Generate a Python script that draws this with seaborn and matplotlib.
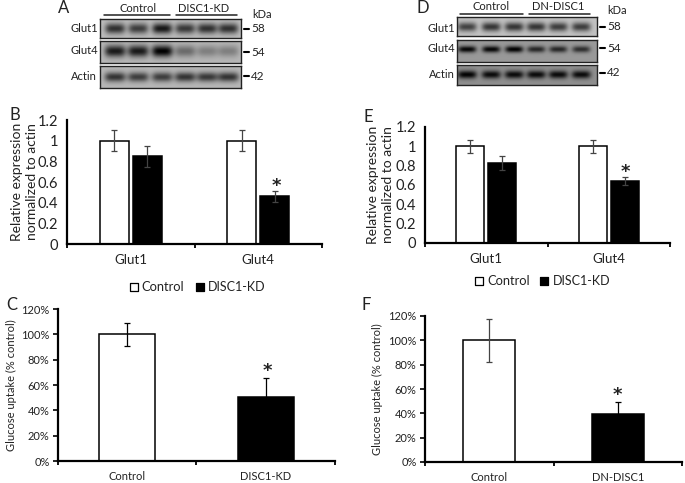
# Western blots and bar charts for the DISC1 knockdown / DN-DISC1 panels
import numpy as np
import pandas as pd
import matplotlib.pyplot as plt
import seaborn as sns

W, H = 685, 483

# panel B / E expression
genes = ["Glut1", "Glut4"]
series = ["Control", "DISC1-KD"]
b_control = [1.0, 1.0]
b_kd = [0.85, 0.46]
b_control_err = [0.10, 0.10]
b_kd_err = [0.10, 0.055]
e_control = [1.0, 1.0]
e_kd = [0.83, 0.64]
e_control_err = [0.07, 0.065]
e_kd_err = [0.07, 0.043]
expr_ticks = [0, 0.2, 0.4, 0.6, 0.8, 1, 1.2]

# panel C / F glucose uptake
c_groups = ["Control", "DISC1-KD"]
c_values = [100, 50.5]
c_err = [9, 15]
f_groups = ["Control", "DN-DISC1"]
f_values = [100, 39.5]
f_err = [17.5, 9.5]
pct_ticks = [0, 20, 40, 60, 80, 100, 120]

# blot band darkness per lane
a_glut1 = [0.55, 0.5, 0.65, 0.52, 0.55, 0.55]
a_glut4 = [0.62, 0.62, 0.72, 0.3, 0.22, 0.22]
a_actin = [0.52, 0.48, 0.48, 0.52, 0.5, 0.52]
d_glut1 = [0.5, 0.55, 0.55, 0.55, 0.52, 0.52]
d_glut4 = [0.58, 0.58, 0.6, 0.45, 0.45, 0.42]
d_actin = [0.55, 0.52, 0.52, 0.52, 0.52, 0.52]
a_lanes = [115, 138, 162, 185, 207, 228]
d_lanes = [467, 491, 514, 536, 558, 581]

sns.set_theme(style="ticks")
plt.rcParams["font.family"] = ["Lato", "DejaVu Sans"]
text_col = "#222222"

fig = plt.figure(figsize=(W / 100, H / 100), dpi=100)
fig.patch.set_facecolor("white")


def px_axes(left, top, right, bottom):
    return fig.add_axes([left / W, 1 - bottom / H, (right - left) / W, (bottom - top) / H])


def blot(left, top, right, bottom, lanes, darkness, background, half_w, band_h, yc=0.5):
    ax = px_axes(left, top, right, bottom)
    xs = np.arange(left, right, 0.5)
    ys = np.linspace(0, 1, 60)
    img = np.full((len(ys), len(xs)), background, dtype=float)
    for c, d in zip(lanes, darkness):
        img -= d * np.exp(-((xs - c) / half_w) ** 4) * np.exp(-((ys[:, None] - yc) / band_h) ** 2)
    ax.imshow(img, cmap="gray", vmin=0, vmax=1, aspect="auto", interpolation="bilinear")
    ax.set_xticks([])
    ax.set_yticks([])
    for s in ax.spines.values():
        s.set_linewidth(1.0)
        s.set_color("#222222")


def style_axis(ax, ylabel, label_x, label_size, tick_size, ticklen, pad):
    sns.despine(ax=ax)
    ax.set_xlim(-0.5, 1.5)
    for s in ["left", "bottom"]:
        ax.spines[s].set_linewidth(1.6)
        ax.spines[s].set_color("black")
    ax.set_xticks([-0.5, 0.5, 1.5], minor=True)
    ax.tick_params(axis="x", which="minor", length=3, width=1.3, color="black")
    ax.tick_params(axis="x", which="major", length=0, pad=7.5, labelsize=tick_size, labelcolor=text_col)
    ax.tick_params(axis="y", length=ticklen, width=1.2, color="black", pad=pad, labelcolor=text_col)
    ax.set_xlabel("")
    ax.set_ylabel(ylabel, fontsize=label_size, color=text_col, linespacing=1.3)
    ax.yaxis.set_label_coords(label_x, 0.5)


def grouped_panel(box, control, kd, control_err, kd_err, gap, label_x):
    ax = px_axes(*box)
    df = pd.DataFrame({
        "gene": genes * 2,
        "series": [series[0]] * 2 + [series[1]] * 2,
        "value": control + kd,
    })
    sns.barplot(data=df, x="gene", y="value", hue="series", hue_order=series,
                palette=["white", "black"], edgecolor="black", linewidth=1.1,
                width=0.52, gap=gap, legend=False, ax=ax)
    for cont, err in zip(ax.containers, [control_err, kd_err]):
        xs = [p.get_x() + p.get_width() / 2 for p in cont]
        ys = [p.get_height() for p in cont]
        ax.errorbar(xs, ys, yerr=err, fmt="none", ecolor="#444444", elinewidth=0.9,
                    capsize=2.2, capthick=0.9, zorder=5)
    ax.set_ylim(0, 1.2)
    ax.set_yticks(expr_ticks)
    ax.set_yticklabels(["0", "0.2", "0.4", "0.6", "0.8", "1", "1.2"], fontsize=10.5)
    style_axis(ax, "Relative expression\nnormalized to actin", label_x, 10, 9.5, 0, 6.5)
    return ax


def single_panel(box, groups, values, err, label_x, bar_width, err_col):
    ax = px_axes(*box)
    sns.barplot(x=groups, y=values, hue=groups, palette=["white", "black"],
                edgecolor="black", linewidth=1.1, width=bar_width, legend=False, ax=ax)
    xs = [p.get_x() + p.get_width() / 2 for p in ax.patches]
    for x, v, e, col in zip(xs, values, err, [err_col, "black"]):
        ax.errorbar([x], [v], yerr=[e], fmt="none", ecolor=col, elinewidth=0.9,
                    capsize=2.2, capthick=0.9, zorder=5)
    ax.set_ylim(0, 120)
    ax.set_yticks(pct_ticks)
    ax.set_yticklabels([f"{t}%" for t in pct_ticks], fontsize=8)
    style_axis(ax, "Glucose uptake (% control)", label_x, 8, 8, 3.5, 2.5)
    return ax


# blots
blot(100, 19, 241, 38, a_lanes, a_glut1, 0.74, 10, 0.28)
blot(100, 41, 241, 63, a_lanes, a_glut4, 0.72, 10.5, 0.27, 0.46)
blot(100, 66, 241, 88, a_lanes, a_actin, 0.72, 10.5, 0.22)
blot(457, 17, 597, 36, d_lanes, d_glut1, 0.76, 9.5, 0.24, 0.52)
blot(457, 40, 597, 62, d_lanes, d_glut4, 0.60, 9, 0.15, 0.42)
blot(457, 65, 597, 85, d_lanes, d_actin, 0.56, 9.5, 0.2, 0.48)

# bars
grouped_panel((67, 120, 322, 244), b_control, b_kd, b_control_err, b_kd_err, 0.12, -0.114)
grouped_panel((425, 127, 670, 243), e_control, e_kd, e_control_err, e_kd_err, 0.12, -0.127)
single_panel((58, 309, 335, 461), c_groups, c_values, c_err, -0.148, 0.405, "black")
single_panel((425, 316, 682, 462), f_groups, f_values, f_err, -0.163, 0.405, "#444444")

# everything placed in pixels: panel letters, blot labels, legends
over = fig.add_axes([0, 0, 1, 1], facecolor="none")
over.set_xlim(0, W)
over.set_ylim(H, 0)
over.axis("off")


def label(x, y, s, size=8, ha="center", **kw):
    over.text(x, y, s, fontsize=size, ha=ha, va="center", color=text_col, **kw)


for x, y, s in [(64, 8, "A"), (423, 8, "D"), (15, 115, "B"), (368, 117, "E"), (12, 305, "C"), (366, 305, "F")]:
    label(x, y, s, size=12)

for x, y, s in [(84, 29, "Glut1"), (84, 50, "Glut4"), (84, 77, "Actin"),
                (441, 29, "Glut1"), (441, 49, "Glut4"), (442, 74, "Actin")]:
    label(x, y, s)

for x, y, s in [(138, 9, "Control"), (204, 9, "DISC1-KD"), (491, 7, "Control"), (558, 7, "DN-DISC1")]:
    label(x, y, s)

for x0, x1, y in [(104, 170, 15), (176, 237, 15), (460, 523, 14), (529, 590, 14)]:
    over.plot([x0, x1], [y, y], color="#222222", lw=1.1)

for x, y, s in [(258, 29, "58"), (258, 52, "54"), (258, 76, "42"), (614, 27, "58"), (614, 48, "54"), (614, 73, "42")]:
    label(x, y, s, size=8.5)
    over.plot([x - 14, x - 9], [y, y], color="black", lw=1.5)
label(262, 14, "kDa", size=8)
label(617, 11, "kDa", size=8)

for x, y in [(276, 186), (625, 172), (267, 371), (617, 395)]:
    over.text(x, y, "*", fontsize=13, fontweight="bold", ha="center", va="center",
              color="#222222", family="DejaVu Sans")

for sq0, sq1, tx0, tx1, y in [(134, 200, 141, 208, 287), (479, 544, 487, 553, 281)]:
    over.scatter([sq0, sq1], [y, y], marker="s", s=40, c=["white", "black"], edgecolors="black", linewidths=0.9)
    label(tx0, y, series[0], size=9.3, ha="left")
    label(tx1, y, series[1], size=9, ha="left")

fig.savefig("out.png", dpi=100)
